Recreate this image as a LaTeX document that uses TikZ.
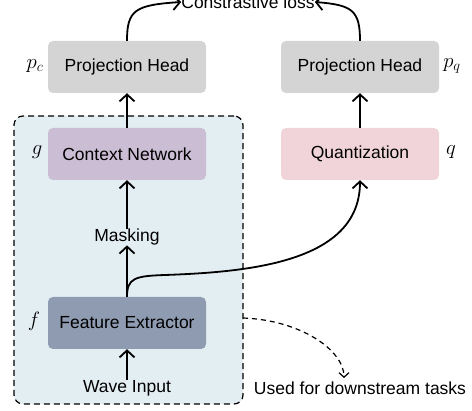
\documentclass[tikz,border=0pt]{standalone}
\usepackage{fontspec}
\setmainfont{Liberation Sans}
\usetikzlibrary{arrows.meta}
\definecolor{phgray}{HTML}{D4D4D4}
\definecolor{cnpurple}{HTML}{CBBDD3}
\definecolor{qpink}{HTML}{F1D4D9}
\definecolor{feblue}{HTML}{8F9BB1}
\definecolor{bgblue}{HTML}{E3EEF3}
\begin{document}
\begin{tikzpicture}[x=1pt,y=-1pt,
  box/.style={rounded corners=5pt, minimum width=158pt, minimum height=52pt, inner sep=0pt, font=\fontsize{17.5}{20}\selectfont},
  lbl/.style={inner sep=0pt, font=\fontsize{17.5}{20}\selectfont},
  mlbl/.style={inner sep=0pt, font=\fontsize{20}{24}\selectfont},
  arr/.style={line width=1.8pt, -{Straight Barb[length=7pt,width=15pt,line width=1.8pt]}},
  darr/.style={line width=1.2pt, dash pattern=on 5pt off 4pt, -{Straight Barb[length=4.5pt,width=10pt,line width=1.2pt]}}
]
\useasboundingbox (0,0) rectangle (472,411);
\node[draw=black, line width=1.2pt, dash pattern=on 6pt off 4pt, fill=bgblue, rounded corners=9pt,
  minimum width=229pt, minimum height=288pt, inner sep=0pt] (bg) at (128.5,260) {};
\node[box, fill=phgray] (phc) at (127,67) {Projection Head};
\node[box, fill=phgray] (phq) at (360,67) {Projection Head};
\node[box, fill=cnpurple] (cn) at (127,154) {Context Network};
\node[box, fill=qpink] (q) at (360,154) {Quantization};
\node[box, fill=feblue] (fe) at (127,323) {Feature Extractor};
\node[lbl] (mask) at (127,237) {Masking};
\node[lbl] (wave) at (127,388) {Wave Input};
\node[lbl] (down) at (360,388) {Used for downstream tasks};
\node[lbl] (loss) at (248,2) {Constrastive loss};
\node[mlbl] (lpc) at (35,66) {$p_c$};
\node[mlbl] (lpq) at (452,66) {$p_q$};
\node[mlbl] (lg) at (37,152) {$g$};
\node[mlbl] (lq) at (451,152) {$q$};
\node[mlbl] (lf) at (34,321) {$f$};
\coordinate (dstart) at (243,318);
\coordinate (dend) at (344,378);
\draw[arr] (cn.north) -- (phc.south);
\draw[arr] (q.north) -- (phq.south);
\draw[arr] (mask.north) -- (cn.south);
\draw[arr] (fe.north) -- (mask.south);
\draw[arr] (wave.north) -- (fe.south);
\draw[arr] (phc.north) .. controls (127,10) and (135,5) .. (loss.west);
\draw[arr] (phq.north) .. controls (360,10) and (352,5) .. (loss.east);
\draw[arr] (fe.north) .. controls (127,278) and (135,276) .. (165,275) .. controls (250,272) and (360,262) .. (q.south);
\draw[darr] (dstart) .. controls (300,320) and (344,350) .. (dend);
\end{tikzpicture}
\end{document}
